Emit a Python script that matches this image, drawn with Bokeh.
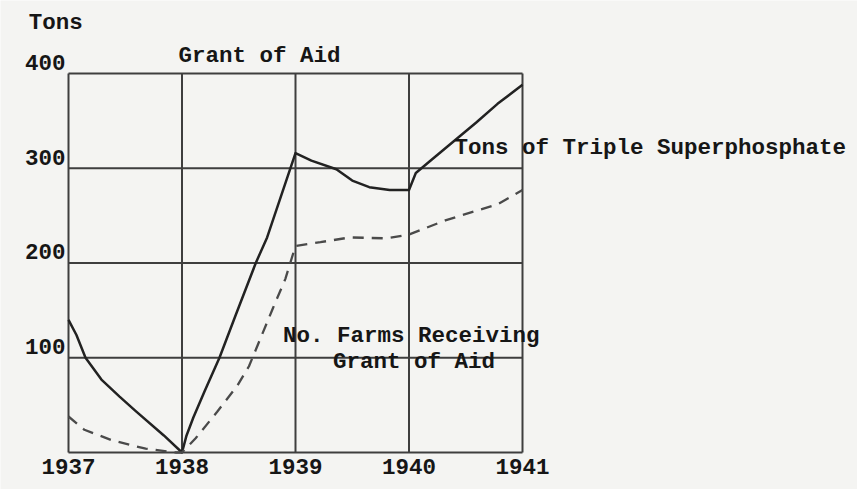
from bokeh.plotting import figure
from bokeh.models import Range1d
from bokeh.core.properties import value
from bokeh.embed import file_html
from bokeh.resources import INLINE

# ---- data ----
year_ticks = [1937, 1938, 1939, 1940, 1941]
year_labels = ["1937", "1938", "1939", "1940", "1941"]
ton_ticks = [0, 100, 200, 300, 400]
ton_labels = ["", "100", "200", "300", "400"]

tons_x = [1937.00, 1937.07, 1937.15, 1937.29, 1937.45, 1937.59, 1937.84, 1938.00,
          1938.04, 1938.10, 1938.20, 1938.33, 1938.47, 1938.65, 1938.75, 1939.00,
          1939.14, 1939.36, 1939.50, 1939.65, 1939.83, 1940.00, 1940.06, 1940.17,
          1940.36, 1940.59, 1940.78, 1941.00]
tons_y = [140, 124, 100, 77, 59, 44, 18, 0,
          18, 37, 65, 100, 144, 200, 227, 316,
          308, 299, 287, 280, 277, 277, 295, 306,
          325, 348, 368, 388]

farms_x = [1937.00, 1937.14, 1937.38, 1937.68, 1937.95, 1938.00, 1938.12, 1938.31,
           1938.49, 1938.59, 1938.69, 1938.80, 1938.91, 1939.00, 1939.22, 1939.48,
           1939.80, 1940.00, 1940.32, 1940.59, 1940.78, 1941.00]
farms_y = [38, 24, 13, 4, 0, 0, 15, 43,
           71, 91, 120, 152, 183, 218, 222, 227,
           226, 230, 245, 255, 262, 277]

note_text = ["Tons", "Grant of Aid", "Tons of Triple Superphosphate",
             "No. Farms Receiving", "Grant of Aid"]
note_x = [1936.65, 1937.97, 1940.40, 1938.89, 1939.33]
note_y = [447.5, 413.7, 315.6, 118, 90]

# ---- figure ----
W, H = 857, 489
p = figure(width=W, height=H, output_backend="svg", toolbar_location=None,
           x_range=Range1d(1936.4009, 1943.9515), y_range=Range1d(-39.05, 477.04),
           x_axis_location=None, y_axis_location=None, min_border=0)
p.grid.visible = False
p.outline_line_color = None
p.background_fill_color = "#f4f4f2"
p.border_fill_color = "#f4f4f2"

grid_color = "#3e3e3e"
# vertical lines (incl. frame sides)
p.segment(x0=year_ticks, y0=[ton_ticks[0]] * len(year_ticks),
          x1=year_ticks, y1=[ton_ticks[-1]] * len(year_ticks),
          line_color=grid_color, line_width=2)
# horizontal lines (incl. frame top/bottom)
p.segment(x0=[year_ticks[0]] * len(ton_ticks), y0=ton_ticks,
          x1=[year_ticks[-1]] * len(ton_ticks), y1=ton_ticks,
          line_color=grid_color, line_width=2)

# series
p.line(tons_x, tons_y, line_color="#222222", line_width=2.5, line_join="round")
p.line(farms_x, farms_y, line_color="#4a4a4a", line_width=2.3, line_dash="11 8")

font = value("Liberation Mono")
txt_color = "#161616"
fs = "22.5px"

# x labels
p.text(x=year_ticks, y=[ton_ticks[0]] * len(year_ticks), text=year_labels,
       text_font=font, text_font_style="bold", text_font_size=fs,
       text_color=txt_color, text_align="center", text_baseline="top", y_offset=7)
# y labels
p.text(x=[year_ticks[0]] * len(ton_ticks), y=ton_ticks, text=ton_labels,
       text_font=font, text_font_style="bold", text_font_size=fs,
       text_color=txt_color, text_align="right", text_baseline="alphabetic",
       x_offset=-3, y_offset=-11)
# annotations
p.text(x=note_x, y=note_y, text=note_text,
       text_font=font, text_font_style="bold", text_font_size=fs,
       text_color=txt_color, text_align="left", text_baseline="alphabetic",
       y_offset=-5)

open("out.html", "w").write(file_html(p, INLINE))
